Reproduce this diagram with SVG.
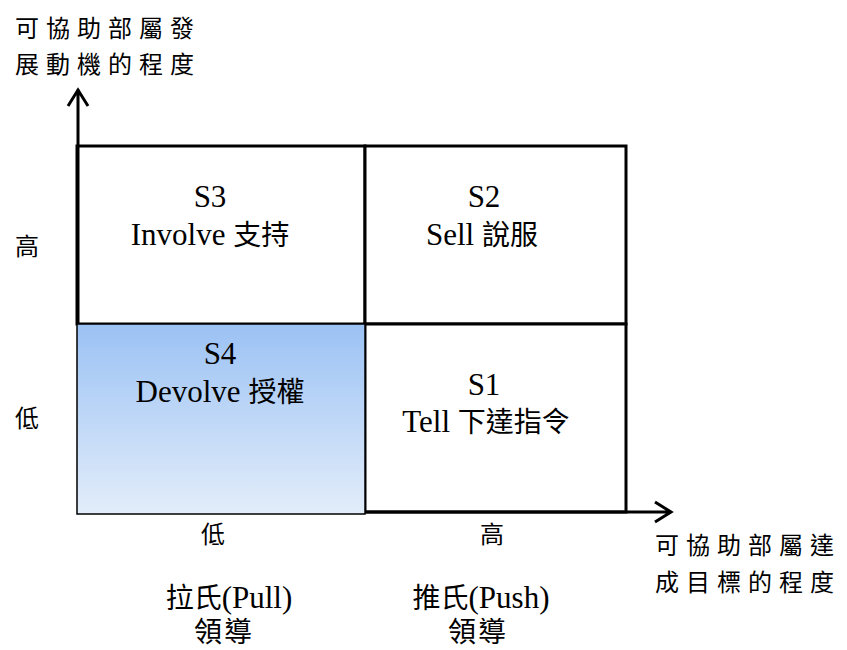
<svg xmlns="http://www.w3.org/2000/svg" width="847" height="650" viewBox="0 0 847 650">
<style>
.t{font-family:"Liberation Serif",serif;font-size:31px;fill:#000;text-anchor:middle}
.k{font-family:"Noto Sans CJK TC","Noto Sans CJK SC",sans-serif;font-size:28px}
.lbl{font-family:"Noto Sans CJK TC","Liberation Serif",sans-serif;font-size:24px;fill:#000}
.cell{stroke:#000;stroke-width:3;fill:#fff}
.axis{stroke:#000;stroke-width:3;fill:none}
</style>
<defs>
<linearGradient id="g4" x1="0" y1="0" x2="0" y2="1">
<stop offset="0" stop-color="#9bc2f4"/>
<stop offset="1" stop-color="#e3edfa"/>
</linearGradient>
</defs>
<g id="S3"><rect class="cell" x="77" y="146" width="288" height="178"/>
<text class="t" x="210" y="207">S3</text><text class="t" x="210" y="245">Involve <tspan class="k">支持</tspan></text></g>
<g id="S2"><rect class="cell" x="365" y="146" width="261" height="178"/>
<text class="t" x="484" y="207">S2</text><text class="t" x="482" y="245">Sell <tspan class="k">說服</tspan></text></g>
<g id="S1"><rect class="cell" x="365" y="324" width="261" height="188"/>
<text class="t" x="484" y="395">S1</text><text class="t" x="486" y="432">Tell <tspan class="k">下達指令</tspan></text></g>
<g id="S4"><rect x="77" y="324" width="288" height="190" fill="url(#g4)" stroke="#000" stroke-width="1.5"/>
<text class="t" x="220" y="364">S4</text><text class="t" x="220" y="402">Devolve <tspan class="k">授權</tspan></text></g>
<g id="axes">
<path class="axis" d="M78,324 V89 M68,106 L78,90 L88,106"/>
<path class="axis" d="M365,512 H671 M655,502 L671,512 L655,522"/>
</g>
<g id="labels">
<text class="lbl" x="15" y="37" letter-spacing="7">可協助部屬發</text>
<text class="lbl" x="15" y="73" letter-spacing="7">展動機的程度</text>
<text class="lbl" x="655" y="554" letter-spacing="7">可協助部屬達</text>
<text class="lbl" x="655" y="591" letter-spacing="7">成目標的程度</text>
<text class="lbl" x="27" y="255" text-anchor="middle">高</text>
<text class="lbl" x="27" y="427" text-anchor="middle">低</text>
<text class="lbl" x="213" y="543" text-anchor="middle" font-size="26">低</text>
<text class="lbl" x="492" y="543" text-anchor="middle" font-size="26">高</text>
<text class="t" x="229" y="608"><tspan class="k">拉氏</tspan>(Pull)</text>
<text class="t k" x="224" y="642" letter-spacing="2">領導</text>
<text class="t" x="481" y="608"><tspan class="k">推氏</tspan>(Push)</text>
<text class="t k" x="478" y="642" letter-spacing="2">領導</text>
</g>
</svg>
